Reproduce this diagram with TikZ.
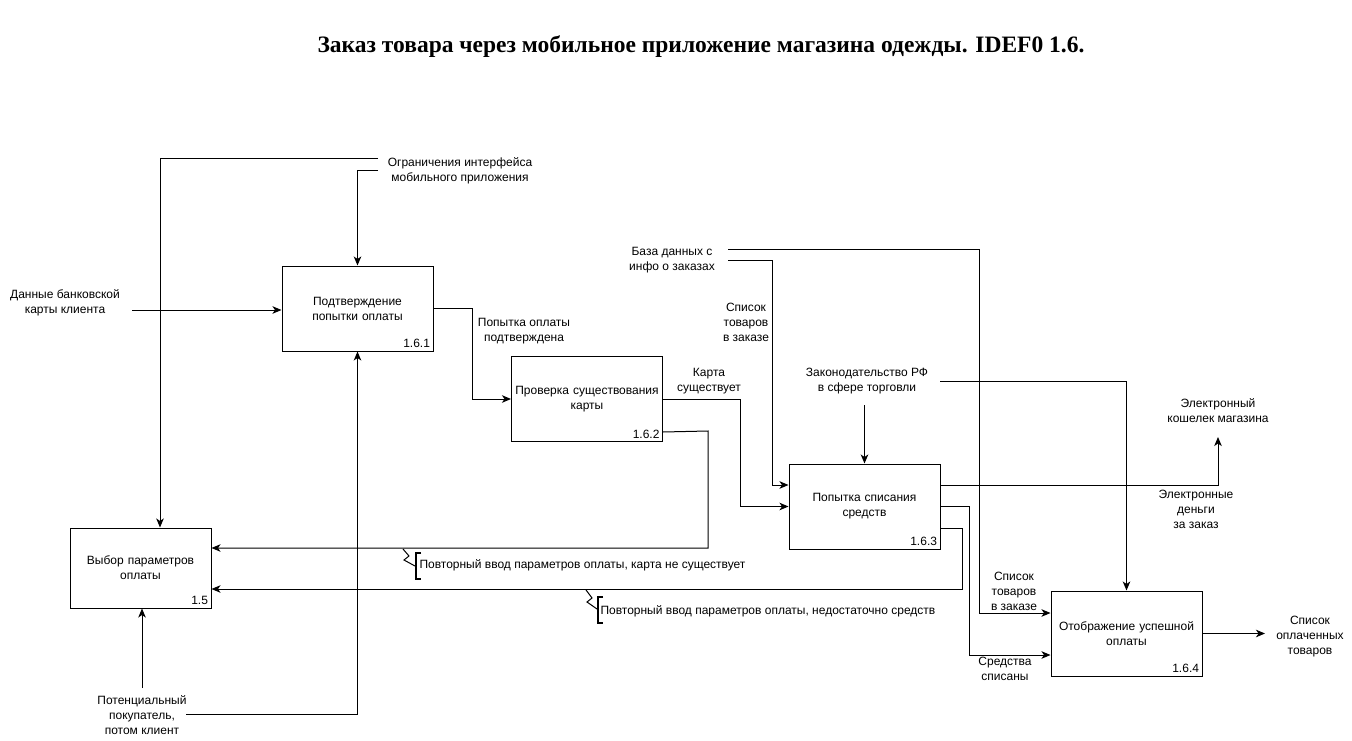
\documentclass[tikz,border=0pt]{standalone}
\usepackage{fontspec}
\setmainfont{Liberation Sans}
\newfontfamily\titlefont{Liberation Serif}
\usetikzlibrary{arrows.meta,positioning}

\begin{document}
\begin{tikzpicture}[x=1pt, y=-1pt, ->, >={Stealth[length=9pt,width=7.5pt,inset=2.5pt]}, line width=1pt, font=\fontsize{12}{15}\selectfont]
	\tikzstyle{func}=[draw, -, minimum width=151pt, minimum height=85pt, align=center, text width=145pt, inner sep=2pt]
	\tikzstyle{num}=[anchor=south east, inner xsep=3pt, inner ysep=3pt]
	\tikzstyle{lbl}=[align=center, inner sep=0pt]
	\tikzstyle{brk}=[-, line width=1.6pt]
	\useasboundingbox (0,0) rectangle (1352,741);
	\node[font=\titlefont\bfseries\fontsize{23.5}{28}\selectfont] (title) at (701,47) {Заказ товара через мобильное приложение магазина одежды. IDEF0 1.6.};
	% functions
	\node[func] (b1) at (357.5,308.5) {Подтверждение\\попытки оплаты};
	\node[func] (b2) at (587,399) {Проверка существования\\карты};
	\node[func] (b3) at (864.5,506.5) {Попытка списания\\средств};
	\node[func] (b4) at (1126.5,633.5) {Отображение успешной\\оплаты};
	\node[func, minimum width=141pt, minimum height=80pt, text width=135pt] (b15) at (140.5,568) {Выбор параметров\\оплаты};
	\node[num] at (b1.south east) {1.6.1};
	\node[num] at (b2.south east) {1.6.2};
	\node[num] at (b3.south east) {1.6.3};
	\node[num] at (b4.south east) {1.6.4};
	\node[num] at (b15.south east) {1.5};
	% labels
	\node[lbl] (ogr) at (460,171) {Ограничения интерфейса\\мобильного приложения};
	\node[lbl] (dan) at (65,303) {Данные банковской\\карты клиента};
	\node[lbl] (pot) at (142,715) {Потенциальный\\покупатель,\\потом клиент};
	\node[lbl] (bd) at (672,260) {База данных с\\инфо о заказах};
	\node[lbl] (zak) at (867,381) {Законодательство РФ\\в сфере торговли};
	\node[lbl] (kosh) at (1218,411) {Электронный\\кошелек магазина};
	\node[lbl] (spo) at (1310,637) {Список\\оплаченных\\товаров};
	\node[lbl] (pod) at (524,331) {Попытка оплаты\\подтверждена};
	\node[lbl] (kart) at (709,381) {Карта\\существует};
	\node[lbl] (spt1) at (746,322) {Список\\товаров\\в заказе};
	\node[lbl] (spt2) at (1014,591) {Список\\товаров\\в заказе};
	\node[lbl] (eden) at (1196,509) {Электронные\\деньги\\за заказ};
	\node[lbl] (sred) at (1005,669) {Средства\\списаны};
	\node[lbl, anchor=west] (pov1) at (419,565) {Повторный ввод параметров оплаты, карта не существует};
	\node[lbl, anchor=west] (pov2) at (600,611) {Повторный ввод параметров оплаты, недостаточно средств};
	% free ends
	\coordinate (ogrA) at (378,159);
	\coordinate (ogrB) at (378,170);
	\coordinate (danA) at (132,310);
	\coordinate (potA) at (142,688);
	\coordinate (potB) at (186,714);
	\coordinate (bdA) at (728,249);
	\coordinate (bdB) at (728,260);
	\coordinate (zakA) at (864.5,405);
	\coordinate (zakB) at (940,381);
	\coordinate (koshA) at (1218,437);
	\coordinate (spoA) at (1265,633.5);
	% connectors
	\draw (ogrA) -| ([xshift=19.5pt]b15.north);
	\draw (ogrB) -| (b1.north);
	\draw (danA) -- (danA -| b1.west);
	\draw (potA) -- (potA |- b15.south);
	\draw (potB) -| (b1.south);
	\draw (b1.east) -- (472,308.5) |- (b2.west);
	\draw (b2.east) -- (740,399) |- (b3.west);
	\draw ([yshift=10pt]b2.south east) -- (708,431) |- ([yshift=20pt]b15.east);
	\draw (bdA) -- (979,249) |- ([yshift=20.5pt]b4.west);
	\draw (bdB) -- (772,260) |- ([yshift=21.5pt]b3.west);
	\draw (zakA) -- (b3.north);
	\draw (zakB) -| (b4.north);
	\draw ([yshift=21.5pt]b3.east) -| (koshA);
	\draw (b3.east) -- (969,506.5) |- ([yshift=-21.5pt]b4.west);
	\draw ([yshift=-21.5pt]b3.east) -- (962,528) |- ([yshift=-21pt]b15.east);
	\draw (b4.east) -- (spoA);
	% squiggles
	\draw[-] (403,549) -- (409,556) -- (404,560) -- (415,566);
	\draw[brk] (421,553) -- (416,553) -- (416,579) -- (421,579);
	\draw[-] (586,590) -- (592,598) -- (587,602) -- (597,609);
	\draw[brk] (603,597) -- (598,597) -- (598,623) -- (603,623);
\end{tikzpicture}
\end{document}
